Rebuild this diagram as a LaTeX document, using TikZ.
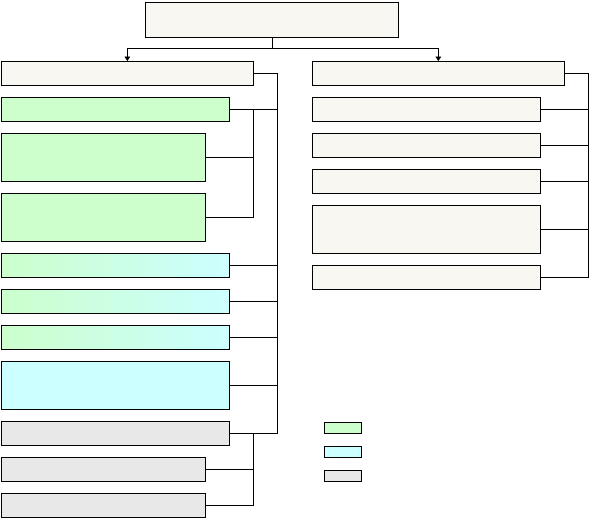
\documentclass[tikz,border=0pt]{standalone}
\usepackage{xcolor}
\usepackage{tikz}
\usetikzlibrary{arrows.meta,calc,positioning}
\definecolor{beige}{HTML}{F8F7F2}
\definecolor{grn}{HTML}{CCFFCC}
\definecolor{cyn}{HTML}{CCFFFF}
\definecolor{gry}{HTML}{E8E8E8}
\begin{document}
\begin{tikzpicture}[x=0.5mm,y=-0.5mm,
  bx/.style={draw,line width=1pt,inner sep=0pt,anchor=north west,minimum height=12mm},
  wide/.style={bx,minimum width=126mm},
  mid/.style={bx,minimum width=114mm},
  short/.style={bx,minimum width=102mm},
  tall/.style={minimum height=24mm},
  key/.style={draw,line width=1pt,inner sep=0pt,anchor=north west,minimum width=18.5mm,minimum height=5.5mm},
  ln/.style={line width=1pt},
  ar/.style={ln,-{Triangle[length=2.2mm,width=2.8mm]}}]
\useasboundingbox (0,0) rectangle (589,517);
% top
\node[bx,fill=beige,minimum width=126.5mm,minimum height=17.5mm] (top) at (145,2) {};
% left column
\node[wide,fill=beige] (l0) at (1,61) {};
\node[mid,fill=grn] (l1) at (1,97) {};
\node[short,tall,fill=grn] (l2) at (1,133) {};
\node[short,tall,fill=grn] (l3) at (1,193) {};
\node[mid,left color=grn,right color=cyn] (l4) at (1,253) {};
\node[mid,left color=grn,right color=cyn] (l5) at (1,289) {};
\node[mid,left color=grn,right color=cyn] (l6) at (1,325) {};
\node[mid,tall,fill=cyn] (l7) at (1,361) {};
\node[mid,fill=gry] (l8) at (1,421) {};
\node[short,fill=gry] (l9) at (1,457) {};
\node[short,fill=gry] (l10) at (1,493) {};
% right column
\node[wide,fill=beige] (r0) at (312,61) {};
\node[mid,fill=beige] (r1) at (312,97) {};
\node[mid,fill=beige] (r2) at (312,133) {};
\node[mid,fill=beige] (r3) at (312,169) {};
\node[mid,tall,fill=beige] (r4) at (312,205) {};
\node[mid,fill=beige] (r5) at (312,265) {};
% legend
\node[key,fill=grn] (k1) at (324,422) {};
\node[key,fill=cyn] (k2) at (324,446) {};
\node[key,fill=gry] (k3) at (324,470) {};
% buses
\coordinate (fork) at ($(top.south)+(0,11)$);
\coordinate (busA) at (277,0);
\coordinate (busB) at (253,0);
\coordinate (busC) at (588,0);
\draw[ln] (top.south) -- (fork);
\draw[ar] (fork) -| (l0.north);
\draw[ar] (fork) -| (r0.north);
\draw[ln] (l0.east) -- (l0.east -| busA) -- (l8.east -| busA) -- (l8.east);
\foreach \n in {l1,l4,l5,l6,l7}
  \draw[ln] (\n.east) -- (\n.east -| busA);
\draw[ln] (l1.east -| busB) -- (l3.east -| busB) -- (l3.east);
\draw[ln] (l2.east) -- (l2.east -| busB);
\draw[ln] (l8.east -| busB) -- (l10.east -| busB) -- (l10.east);
\draw[ln] (l9.east) -- (l9.east -| busB);
\draw[ln] (r0.east) -- (r0.east -| busC) -- (r5.east -| busC) -- (r5.east);
\foreach \n in {r1,r2,r3,r4}
  \draw[ln] (\n.east) -- (\n.east -| busC);
\end{tikzpicture}
\end{document}
